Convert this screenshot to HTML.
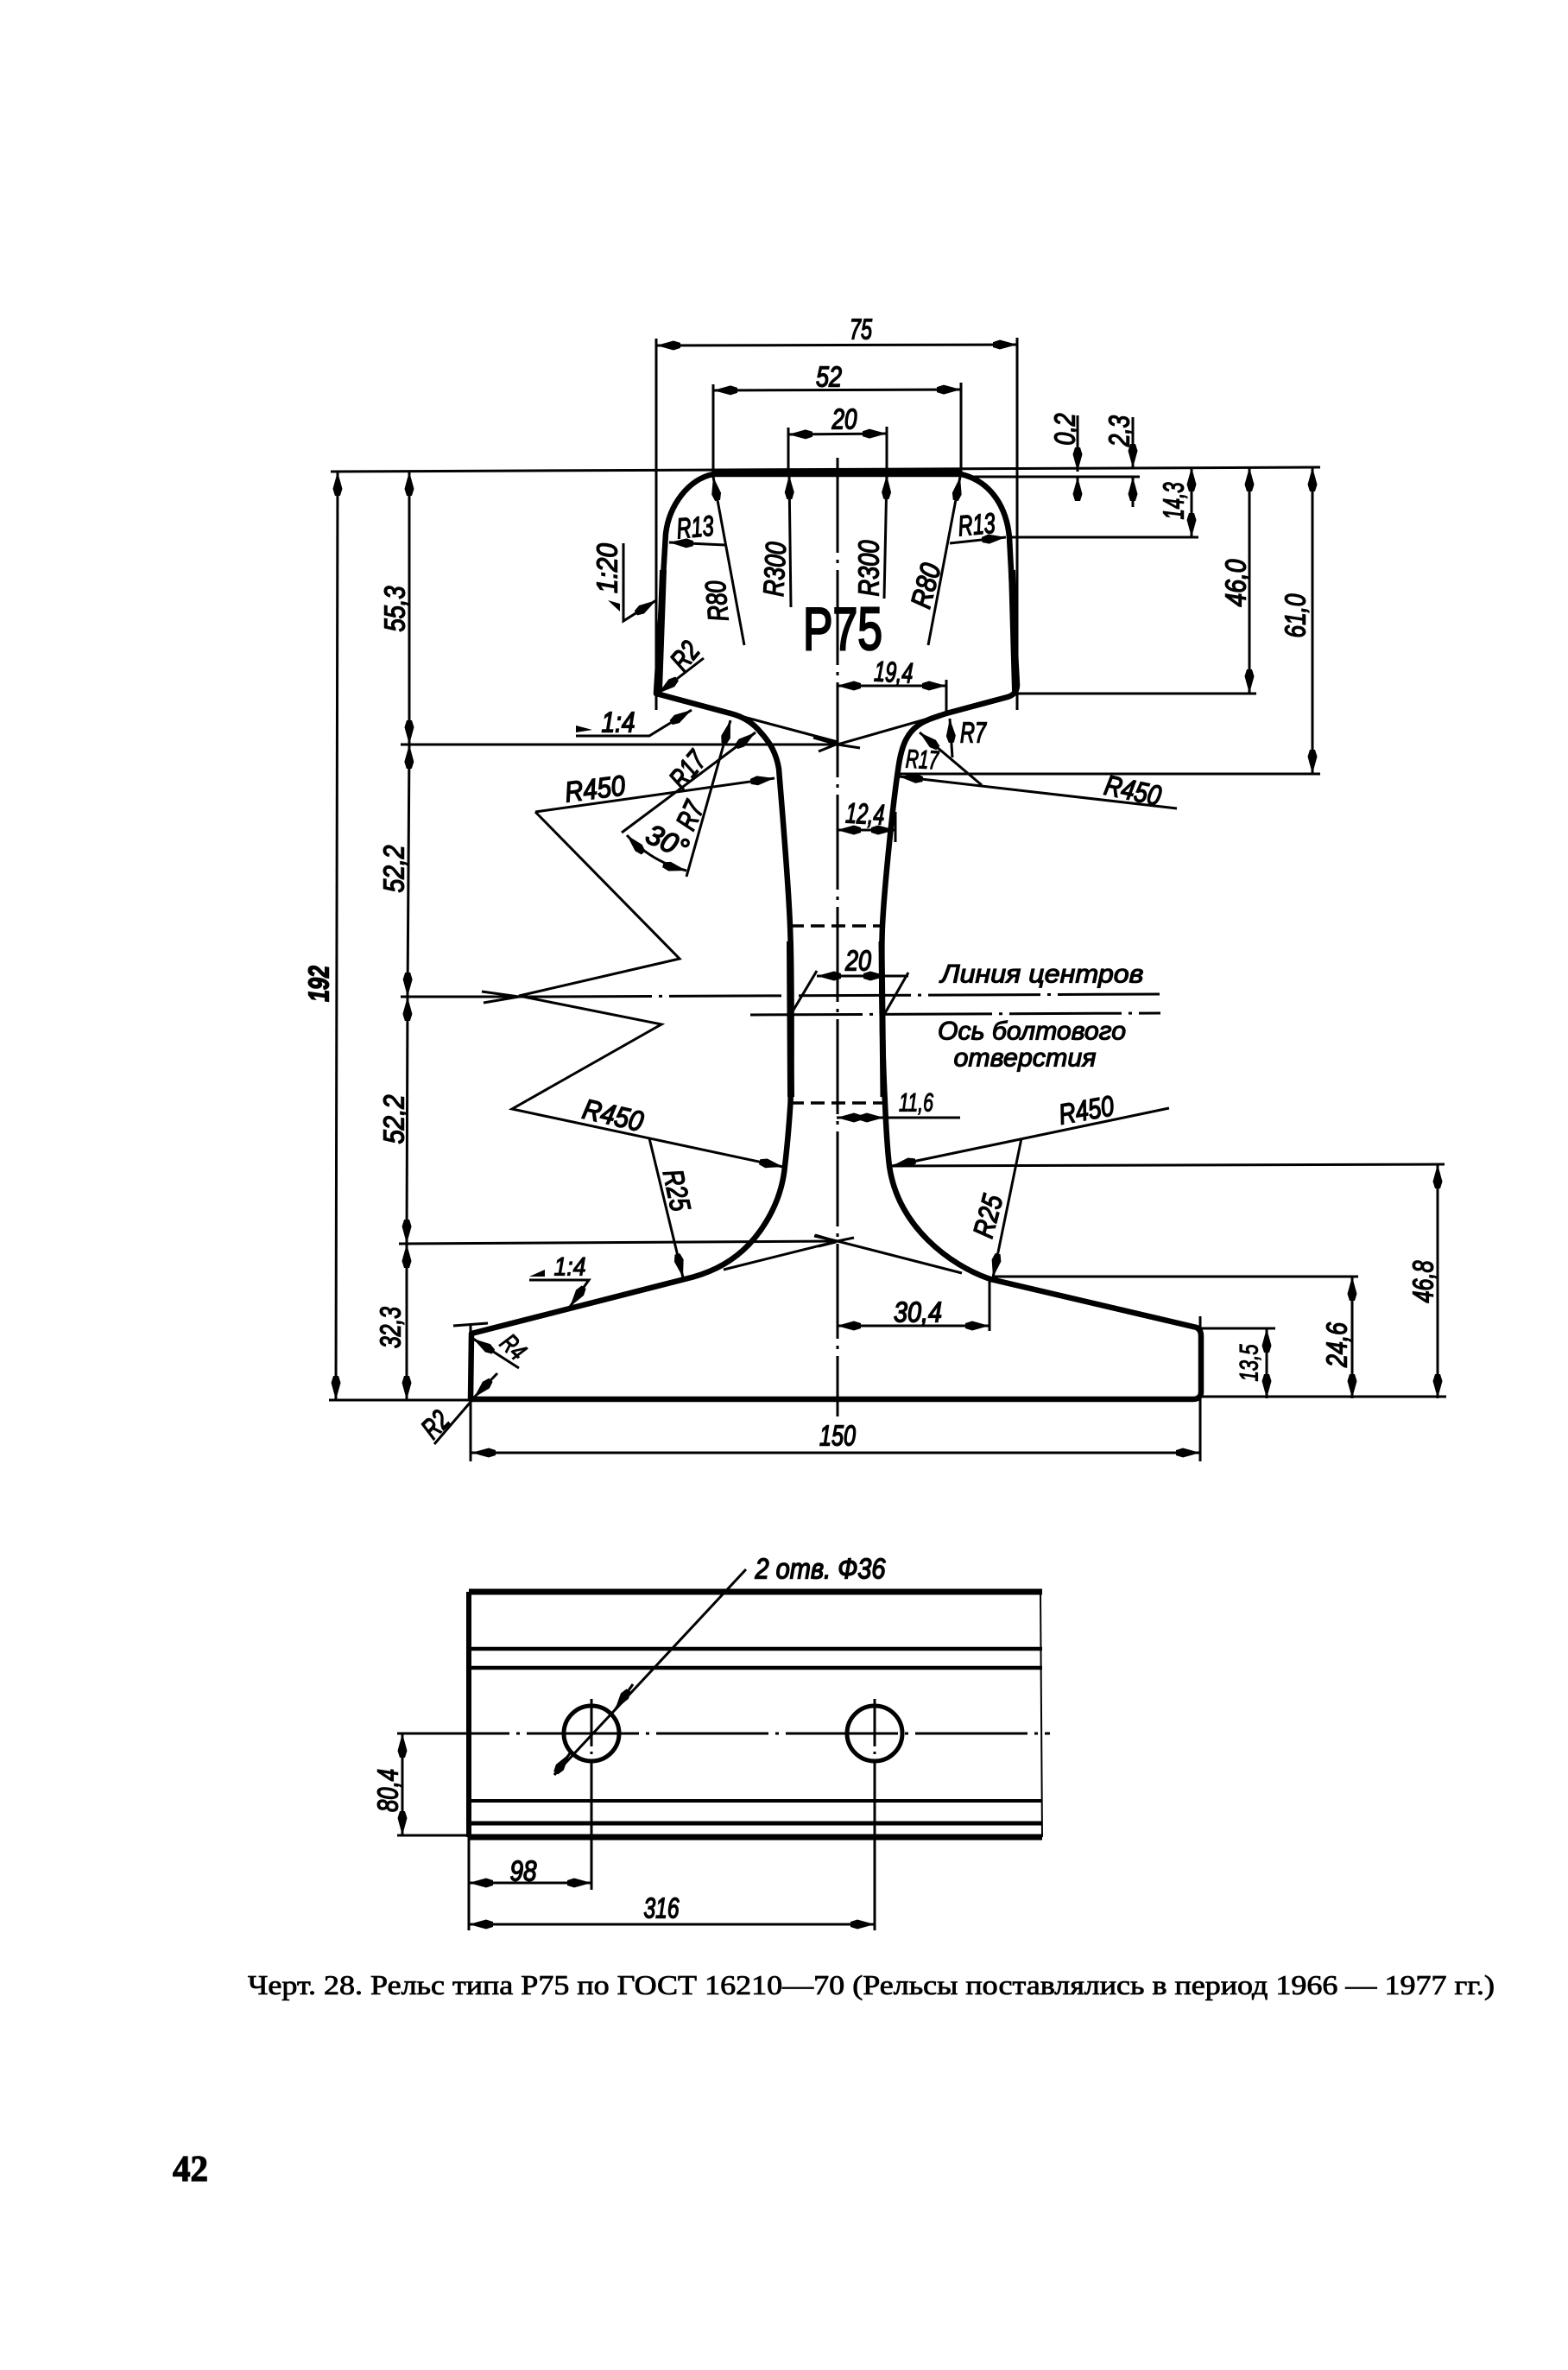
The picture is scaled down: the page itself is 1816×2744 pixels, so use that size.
<!DOCTYPE html>
<html><head><meta charset="utf-8"><style>
html,body{margin:0;padding:0;background:#fff}
svg{display:block}
.l{fill:none;stroke:#000;stroke-width:3}
text{font-family:"Liberation Sans",sans-serif;fill:#000}
.a{font-style:italic;font-size:33px;stroke:#000;stroke-width:1.5;text-anchor:middle;dominant-baseline:central;}
.c{font-style:italic;font-size:30px;stroke:#000;stroke-width:1.2;text-anchor:middle;dominant-baseline:central;}
</style></head><body>
<svg xmlns="http://www.w3.org/2000/svg" width="1816" height="2744" viewBox="0 0 1816 2744">
<defs>
<marker id="m" viewBox="0 0 28 12" refX="28" refY="6" markerWidth="28" markerHeight="12" markerUnits="userSpaceOnUse" orient="auto-start-reverse"><path d="M0 3 L8 0.5 L28 6 L8 11.5 L0 9Z" fill="#000"/></marker>
</defs>
<rect width="1816" height="2744" fill="#fff"/>

<!-- profile -->
<path d="M826 549 C797 555 775 585 771 618 L760 803 L846 826 C862 830 873 838 881 848 C892 860 899 872 902 890 C906 940 913 1020 915 1072 C917 1120 917 1220 915.5 1277 C914 1300 912 1325 909 1350 C905 1395 880 1430 860 1448 C840 1466 815 1476 793 1481 L546 1544 L545 1620 L1382 1620 C1388 1620 1391 1616 1391 1612 L1391 1548 C1391 1542 1390 1540 1386 1537 L1147 1481 C1100 1465 1040 1420 1030 1350 C1027 1325 1026 1300 1025 1277 C1022 1220 1020 1120 1022 1072 C1024 1030 1034 930 1041 885 C1045 860 1052 848 1063 840 C1072 833 1085 830 1096 826 L1167 807 C1174 805 1178 800 1178 793 L1169 622 C1166 590 1150 558 1113 549 Z" fill="none" stroke="#000" stroke-width="6.5" stroke-linejoin="round"/>
<path d="M826 547 L1113 547" stroke="#000" stroke-width="6"/>
<path d="M768 660 L763 800" stroke="#000" stroke-width="8"/>
<path d="M1172 660 L1176 800" stroke="#000" stroke-width="8"/>
<path d="M915 1090 L916 1270" stroke="#000" stroke-width="8" fill="none"/>
<path d="M1021 1090 L1023 1270" stroke="#000" stroke-width="7" fill="none"/>

<g class="l">
<!-- datum lines -->
<path d="M383 546 L1529 541"/>
<path d="M381 1621 L546 1621"/>
<path d="M1391 1617 L1675 1617"/>
<path d="M464 862 L968 862"/>
<path d="M462 1440 L968 1437"/>
<path d="M464 1154 L625 1154"/>
<path d="M1178 803 L1455 803"/>
<path d="M1041 896 L1529 896"/>
<path d="M1169 622 L1388 622"/>
<path d="M1120 552 L1320 552"/>
<path d="M1030 1350 L1673 1348"/>
<path d="M1150 1478 L1573 1478"/>
<path d="M1390 1538 L1477 1538"/>
<!-- centre axis -->
<path d="M970 530 L970 1640" stroke-dasharray="110 8 4 8"/>
<!-- extensions -->
<path d="M760 392 L760 822"/><path d="M1178 391 L1178 822"/>
<path d="M826 445 L826 550"/><path d="M1113 443 L1113 550"/>
<path d="M913 495 L913 546"/><path d="M1027 494 L1027 546"/>
<path d="M1096 787 L1096 826"/>
<path d="M1037 940 L1037 975"/>
<path d="M545 1532 L545 1692"/><path d="M1390 1524 L1390 1692"/>
<path d="M1146 1481 L1146 1541"/>
<path d="M525 1535 L565 1532"/>
<!-- dims -->
<path d="M760 400 L1178 399" marker-start="url(#m)" marker-end="url(#m)"/>
<path d="M826 452 L1113 451" marker-start="url(#m)" marker-end="url(#m)"/>
<path d="M913 503 L1027 502" marker-start="url(#m)" marker-end="url(#m)"/>
<path d="M391 546 L389 1621" marker-start="url(#m)" marker-end="url(#m)"/>
<path d="M474 546 L474 862" marker-start="url(#m)" marker-end="url(#m)"/>
<path d="M474 862 L472 1154" marker-start="url(#m)" marker-end="url(#m)"/>
<path d="M472 1154 L471 1440" marker-start="url(#m)" marker-end="url(#m)"/>
<path d="M471 1440 L471 1621" marker-start="url(#m)" marker-end="url(#m)"/>
<path d="M1380 541 L1380 622" marker-start="url(#m)" marker-end="url(#m)"/>
<path d="M1447 541 L1447 803" marker-start="url(#m)" marker-end="url(#m)"/>
<path d="M1520 541 L1520 896" marker-start="url(#m)" marker-end="url(#m)"/>
<path d="M1248 481 L1248 546" marker-end="url(#m)"/><path d="M1248 577 L1248 552" marker-end="url(#m)"/>
<path d="M1312 483 L1312 542" marker-end="url(#m)"/><path d="M1312 587 L1312 552" marker-end="url(#m)"/>
<path d="M969 794 L1096 794" marker-start="url(#m)" marker-end="url(#m)"/>
<path d="M969 961 L1037 961" marker-start="url(#m)" marker-end="url(#m)"/>
<path d="M969 1535 L1146 1535" marker-start="url(#m)" marker-end="url(#m)"/>
<path d="M969 1294 L1112 1294"/>
<path d="M969 1294 L1024 1294" marker-start="url(#m)" marker-end="url(#m)"/>
<path d="M1467 1538 L1467 1619" marker-start="url(#m)" marker-end="url(#m)"/>
<path d="M1566 1478 L1566 1619" marker-start="url(#m)" marker-end="url(#m)"/>
<path d="M1665 1348 L1665 1619" marker-start="url(#m)" marker-end="url(#m)"/>
<path d="M546 1682 L1390 1682" marker-start="url(#m)" marker-end="url(#m)"/>
<path d="M946 1130 L1052 1130"/>
<path d="M975 1130 L946 1130" marker-end="url(#m)"/><path d="M1000 1130 L1028 1130" marker-end="url(#m)"/>
<path d="M946 1124 L915 1176"/><path d="M1052 1126 L1025 1173"/>
<!-- leaders -->
<path d="M1100 629 L1165 622" marker-end="url(#m)"/>
<path d="M840 631 L775 628" marker-end="url(#m)"/>
<path d="M862 747 L826 552" marker-end="url(#m)"/>
<path d="M1075 747 L1112 552" marker-end="url(#m)"/>
<path d="M916 703 L914 550" marker-end="url(#m)"/>
<path d="M1024 693 L1027 550" marker-end="url(#m)"/>
<path d="M722 629 L722 719 L760 695" marker-end="url(#m)"/>
<path d="M815 762 L762 803" marker-end="url(#m)"/>
<path d="M667 852 L752 852 L801 822" marker-end="url(#m)"/>
<path d="M620 940 L897 901" marker-end="url(#m)"/>
<path d="M620 940 L787 1110 L601 1153 L766 1186 L593 1284 L907 1351" marker-end="url(#m)"/>
<path d="M720 964 L875 848" marker-end="url(#m)"/>
<path d="M795 1015 L846 834" marker-end="url(#m)"/>
<path d="M726 967 Q755 998 795 1008" marker-start="url(#m)" marker-end="url(#m)"/>
<path d="M1103 877 L1100 832" marker-end="url(#m)"/>
<path d="M1137 909 L1065 848" marker-end="url(#m)"/>
<path d="M1363 936 L1041 899" marker-end="url(#m)"/>
<path d="M1354 1283 L1033 1350" marker-end="url(#m)"/>
<path d="M1183 1318 L1150 1479" marker-end="url(#m)"/>
<path d="M752 1318 L791 1479" marker-end="url(#m)"/>
<path d="M613 1482 L682 1482 L660 1513" marker-end="url(#m)"/>
<path d="M601 1584 L548 1550" marker-end="url(#m)"/>
<path d="M503 1672 L546 1622"/><path d="M576 1590 L549 1618" marker-end="url(#m)"/>
<!-- centre crosses -->
<path d="M942 854 L970 862 L1096 826"/>
<path d="M970 862 L996 866"/>
<path d="M846 826 L970 859"/>
<path d="M838 1470 L970 1437 L1114 1474"/>
<path d="M943 1431 L970 1437 L989 1433"/>
<path d="M948 1443 L968 1438"/><path d="M944 1430 L968 1437"/>
<path d="M948 870 L968 862"/>
<path d="M558 1148 L601 1154 L560 1161"/>
<!-- axes -->
<path d="M625 1154 L1343 1151" stroke-dasharray="130 8 4 8"/>
<path d="M869 1175 L1344 1173" stroke-dasharray="130 8 4 8"/>
<!-- dashed holes -->
<path d="M915 1072 L1022 1072" stroke-dasharray="16 8" stroke-width="3.5"/>
<path d="M915 1277 L1025 1277" stroke-dasharray="16 8" stroke-width="3.5"/>

<!-- plan view -->
<path d="M543 1843 L1207 1843" stroke-width="7"/>
<path d="M543 2127 L1207 2127" stroke-width="7"/>
<path d="M543 1843 L543 2127" stroke-width="6"/>
<path d="M1205 1843 L1207 2127" stroke-width="2"/>
<path d="M543 1909 L1207 1909" stroke-width="4.5"/>
<path d="M543 1931 L1207 1931" stroke-width="4.5"/>
<path d="M543 2085 L1207 2085" stroke-width="4"/>
<path d="M543 2111 L1207 2111" stroke-width="5"/>
<path d="M460 2007 L1216 2007" stroke-dasharray="130 8 4 8"/>
<circle cx="685" cy="2007" r="32" stroke-width="5"/>
<circle cx="1013" cy="2007" r="32" stroke-width="5"/>
<path d="M685 1967 L685 2188" stroke-dasharray="55 6 3 6 400 0"/>
<path d="M1013 1967 L1013 2235" stroke-dasharray="55 6 3 6 400 0"/>
<path d="M543 2127 L543 2235"/>
<path d="M460 2125 L543 2125"/>
<path d="M466 2007 L466 2125" marker-start="url(#m)" marker-end="url(#m)"/>
<path d="M543 2180 L685 2180" marker-start="url(#m)" marker-end="url(#m)"/>
<path d="M543 2228 L1013 2228" marker-start="url(#m)" marker-end="url(#m)"/>
<path d="M864 1817 L642 2055"/>
<path d="M733 1950 L712 1980" marker-end="url(#m)"/>
<path d="M642 2055 L660 2030" marker-end="url(#m)"/>
</g>

<!-- slope glyphs -->
<polygon points="704,695 718,699 718,708" fill="#000"/>
<polygon points="667,848 686,845 667,840" fill="#000"/>
<polygon points="613,1478 631,1470 631,1478" fill="#000"/>

<!-- labels -->
<text class="a" x="997" y="381" textLength="26" lengthAdjust="spacingAndGlyphs">75</text>
<text class="a" x="960" y="436" textLength="30" lengthAdjust="spacingAndGlyphs">52</text>
<text class="a" x="978" y="485" textLength="29" lengthAdjust="spacingAndGlyphs">20</text>
<text class="a" transform="translate(1233 497) rotate(-90)" textLength="37" lengthAdjust="spacingAndGlyphs">0,2</text>
<text class="a" transform="translate(1296 499) rotate(-90)" textLength="36" lengthAdjust="spacingAndGlyphs">2,3</text>
<text class="a" transform="translate(1359 580) rotate(-90)" textLength="43" lengthAdjust="spacingAndGlyphs">14,3</text>
<text class="a" transform="translate(1431 675) rotate(-90)" textLength="55" lengthAdjust="spacingAndGlyphs">46,0</text>
<text class="a" transform="translate(1500 713) rotate(-90)" textLength="51" lengthAdjust="spacingAndGlyphs">61,0</text>
<text class="a" transform="translate(805 610) rotate(-5)" textLength="43" lengthAdjust="spacingAndGlyphs">R13</text>
<text class="a" transform="translate(1131 607) rotate(-5)" textLength="43" lengthAdjust="spacingAndGlyphs">R13</text>
<text class="a" transform="translate(830 696) rotate(-95)" textLength="47" lengthAdjust="spacingAndGlyphs">R80</text>
<text class="a" transform="translate(1072 678) rotate(-75)" textLength="52" lengthAdjust="spacingAndGlyphs">R80</text>
<text class="a" transform="translate(897 659) rotate(-87)" textLength="63" lengthAdjust="spacingAndGlyphs">R300</text>
<text class="a" transform="translate(1006 658) rotate(-90)" textLength="65" lengthAdjust="spacingAndGlyphs">R300</text>
<text class="a" transform="translate(703 658) rotate(-90)" textLength="58" lengthAdjust="spacingAndGlyphs">1:20</text>
<text class="a" transform="translate(457 705) rotate(-90)" textLength="53" lengthAdjust="spacingAndGlyphs">55,3</text>
<text class="a" transform="translate(793 759) rotate(-50)" textLength="32" lengthAdjust="spacingAndGlyphs">R2</text>
<text class="a" x="716" y="836" textLength="39" lengthAdjust="spacingAndGlyphs">1:4</text>
<text class="a" transform="translate(689 913) rotate(-7)" textLength="70" lengthAdjust="spacingAndGlyphs">R450</text>
<text class="a" transform="translate(796 891) rotate(-50)" textLength="45" lengthAdjust="spacingAndGlyphs">R17</text>
<text class="a" transform="translate(799 944) rotate(-65)" textLength="32" lengthAdjust="spacingAndGlyphs">R7</text>
<text class="a" transform="translate(773 974) rotate(25)" textLength="50" lengthAdjust="spacingAndGlyphs">30°</text>
<text class="a" transform="translate(1035 778) rotate(3)" textLength="45" lengthAdjust="spacingAndGlyphs">19,4</text>
<text class="a" x="1127" y="848" textLength="30" lengthAdjust="spacingAndGlyphs">R7</text>
<text class="c" transform="translate(1068 880) rotate(3)" textLength="38" lengthAdjust="spacingAndGlyphs">R17</text>
<text class="a" transform="translate(1312 915) rotate(12)" textLength="66" lengthAdjust="spacingAndGlyphs">R450</text>
<text class="a" transform="translate(1002 942) rotate(3)" textLength="45" lengthAdjust="spacingAndGlyphs">12,4</text>
<text class="a" x="994" y="1112" textLength="30" lengthAdjust="spacingAndGlyphs">20</text>
<text class="c" x="1061" y="1277" textLength="40" lengthAdjust="spacingAndGlyphs">11,6</text>
<text class="a" transform="translate(1258 1285) rotate(-10)" textLength="64" lengthAdjust="spacingAndGlyphs">R450</text>
<text class="a" transform="translate(710 1291) rotate(13)" textLength="71" lengthAdjust="spacingAndGlyphs">R450</text>
<text class="a" transform="translate(784 1378) rotate(78)" textLength="48" lengthAdjust="spacingAndGlyphs">R25</text>
<text class="a" transform="translate(1144 1408) rotate(-75)" textLength="50" lengthAdjust="spacingAndGlyphs">R25</text>
<text class="c" x="660" y="1467" textLength="37" lengthAdjust="spacingAndGlyphs">1:4</text>
<text class="c" transform="translate(594 1560) rotate(45)" textLength="28" lengthAdjust="spacingAndGlyphs">R4</text>
<text class="a" transform="translate(504 1649) rotate(-45)" textLength="30" lengthAdjust="spacingAndGlyphs">R2</text>
<text class="a" x="1063" y="1519" textLength="56" lengthAdjust="spacingAndGlyphs">30,4</text>
<text class="a" x="970" y="1662" textLength="42" lengthAdjust="spacingAndGlyphs">150</text>
<text class="c" transform="translate(1447 1578) rotate(-90)" textLength="43" lengthAdjust="spacingAndGlyphs">13,5</text>
<text class="a" transform="translate(1548 1557) rotate(-90)" textLength="52" lengthAdjust="spacingAndGlyphs">24,6</text>
<text class="a" transform="translate(1648 1484) rotate(-90)" textLength="49" lengthAdjust="spacingAndGlyphs">46,8</text>
<text class="a" transform="translate(456 1006) rotate(-90)" textLength="55" lengthAdjust="spacingAndGlyphs">52,2</text>
<text class="a" transform="translate(456 1296) rotate(-90)" textLength="57" lengthAdjust="spacingAndGlyphs">52,2</text>
<text class="a" transform="translate(452 1537) rotate(-90)" textLength="48" lengthAdjust="spacingAndGlyphs">32,3</text>
<text class="a" font-weight="bold" transform="translate(369 1139) rotate(-90)" textLength="42" lengthAdjust="spacingAndGlyphs">192</text>
<text class="c" x="1207" y="1128" textLength="235" lengthAdjust="spacingAndGlyphs">Линия центров</text>
<text class="c" x="1195" y="1194" textLength="218" lengthAdjust="spacingAndGlyphs">Ось болтового</text>
<text class="c" x="1187" y="1225" textLength="165" lengthAdjust="spacingAndGlyphs">отверстия</text>
<text class="a" x="950" y="1816" textLength="151" lengthAdjust="spacingAndGlyphs">2 отв. Ф36</text>
<text class="a" transform="translate(449 2073) rotate(-90)" textLength="50" lengthAdjust="spacingAndGlyphs">80,4</text>
<text class="a" x="606" y="2166" textLength="31" lengthAdjust="spacingAndGlyphs">98</text>
<text class="a" x="766" y="2209" textLength="41" lengthAdjust="spacingAndGlyphs">316</text>

<text x="930" y="752" font-size="70" stroke="#000" stroke-width="2.5" textLength="92" lengthAdjust="spacingAndGlyphs">Р75</text>

<text x="287" y="2309" font-size="32" style="font-family:'Liberation Serif',serif" stroke="#000" stroke-width=".8" textLength="1444" lengthAdjust="spacingAndGlyphs">Черт. 28. Рельс типа Р75 по ГОСТ 16210—70 (Рельсы поставлялись в период 1966 — 1977 гг.)</text>
<text x="200" y="2525" font-size="42" font-weight="bold" style="font-family:'Liberation Serif',serif" stroke="#000" stroke-width="1.2" textLength="41" lengthAdjust="spacingAndGlyphs">42</text>
</svg>
</body></html>
